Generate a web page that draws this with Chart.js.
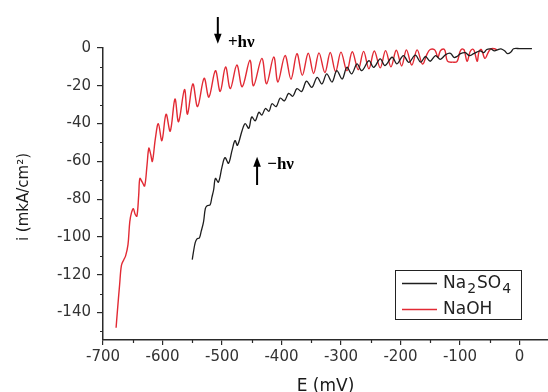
<!DOCTYPE html>
<html>
<head>
<meta charset="utf-8">
<script src="https://cdn.jsdelivr.net/npm/chart.js@4/dist/chart.umd.min.js"></script>
<style>
  html, body { margin: 0; padding: 0; background: #fff; }
  #wrap { width: 548px; height: 392px; }
</style>
</head>
<body>
<div id="wrap"><canvas id="c" width="548" height="392"></canvas></div>
<script>
// Axis ticks (major labelled, minor unlabelled)
const X_TICKS = [-700, -600, -500, -400, -300, -200, -100, 0];
const Y_TICKS = [0, -20, -40, -60, -80, -100, -120, -140];
const X_MINOR = [-650, -550, -450, -350, -250, -150, -50];
const Y_MINOR = [-10, -30, -50, -70, -90, -110, -130, -150];

// Na2SO4: potential E (mV) and photocurrent i (mkA/cm2)
const NA2SO4_E = [-550,-548,-545,-542,-538,-535,-531,-528,-525,-520,
  -517,-514,-511,-506,-500,-495,-489,-483,-478,-474,
  -466,-461,-455,-450,-444,-438,-433,-427,-421,-416,
  -409,-402,-395,-388,-381,-374,-366,-358,-349,-340,
  -332,-324,-315,-307,-298,-290,-282,-273,-265,-253,
  -245,-234,-226,-214,-206,-195,-186,-175,-166,-158,
  -150,-141,-133,-124,-116,-110,-105,-99,-91,-84,
  -77,-71,-66,-60,-55,-48,-42,-36,-31,-25,
  -20,-14,-10,0,10,21];
const NA2SO4_I = [-112,-108,-103,-101,-100.5,-97,-92,-85,-83.5,-83,
  -79,-75,-69,-71,-63,-58,-61,-54,-49,-51.5,
  -43.5,-40,-42.5,-36.5,-38.5,-34,-35.5,-32,-33.5,-29.5,
  -31,-26.5,-28,-24,-25.5,-21.5,-23,-17.5,-20.8,-15.5,
  -19,-13.7,-18,-12,-16.4,-10.2,-13.7,-8.4,-12,-6.7,
  -10.2,-5.8,-9.3,-4.9,-8.4,-4,-7.6,-3.8,-7.5,-4.5,
  -7,-4,-6,-3.5,-2.8,-5,-4.5,-3,-2.5,-4,
  -3,-2,-1.5,-2.5,-0.8,-0.5,-1.5,-0.8,-0.5,-1.5,
  -3,-2,-0.4,-0.3,-0.3,-0.3];

// NaOH: potential E (mV) and photocurrent i (mkA/cm2)
const NAOH_E = [-678,-676,-672,-669,-665,-662,-658,-655,-652,-649,
  -646,-643,-640,-638,-634,-630,-626,-623,-620,-617,
  -612,-607,-601,-594,-587,-579,-573,-563,-558,-549,
  -541,-530,-522,-511,-503,-494,-486,-475,-466,-453,
  -447,-433,-425,-413,-406,-394,-384,-374,-365,-355,
  -346,-337,-327,-318,-309,-300,-290,-281,-271,-262,
  -253,-244,-234,-225,-216,-207,-198,-190,-181,-172,
  -163,-155,-150,-143,-140,-137,-133,-128,-125,-121,
  -112,-105,-100,-97,-93,-88,-83,-79,-76,-71,
  -68,-64,-58,-52,-48,-42,-38];
const NAOH_I = [-148,-140,-125,-115,-112,-110,-104,-92,-87,-85,
  -88,-89,-78,-69,-71,-73,-62,-53,-56,-60,
  -48,-40,-49,-35,-44,-27,-39,-22,-35,-19,
  -31,-16,-26,-12,-23,-10,-21.5,-9,-20.5,-6.5,
  -20,-5.5,-19,-4.7,-18,-4,-16.5,-3,-14.5,-2.8,
  -13.5,-2.6,-13,-2.4,-12.5,-2.2,-12,-2,-11.5,-1.8,
  -11,-1.6,-10.5,-1.4,-10,-1.2,-9.5,-1,-9,-1,
  -8.5,-3,-0.8,-0.8,-2.5,-5,-1.5,-0.5,-1.5,-7,
  -7.5,-7.2,-2,-0.6,-1,-7,-2,-0.6,-1.5,-7,
  -2,-0.8,-5.5,-2,-0.4,-0.4,-1];

const BLACK = '#1e1e1e';
const RED = 'rgb(226,42,52)';
const AXIS = '#2a2a2a';
const TICK_FONT = { family: 'DejaVu Sans', size: 15 };

const toPoints = (xs, ys) => xs.map((x, i) => ({ x: x, y: ys[i] }));

// Light switching marks: arrow (in data units) and its label
const LIGHT_MARKS = [
  { label: '+h\u03BD', x: -507, yFrom: 16.4, yTo: 2.3, dir: 'down', tx: -490, ty: 2.6 },
  { label: '\u2212h\u03BD', x: -441, yFrom: -72.5, yTo: -57.6, dir: 'up', tx: -424, ty: -61.5 }
];

const decor = {
  id: 'decor',
  afterDraw(chart) {
    const ctx = chart.ctx;
    const xs = chart.scales.x, ys = chart.scales.y;
    const area = chart.chartArea;
    ctx.save();

    // minor ticks
    ctx.strokeStyle = AXIS;
    ctx.lineWidth = 1.2;
    ctx.beginPath();
    X_MINOR.forEach(v => {
      const px = Math.round(xs.getPixelForValue(v)) + 0.5;
      ctx.moveTo(px, area.bottom);
      ctx.lineTo(px, area.bottom + 3);
    });
    Y_MINOR.forEach(v => {
      const py = Math.round(ys.getPixelForValue(v)) + 0.5;
      ctx.moveTo(area.left, py);
      ctx.lineTo(area.left - 3, py);
    });
    ctx.stroke();

    // axis titles
    ctx.fillStyle = '#1a1a1a';
    ctx.font = '15px "DejaVu Sans"';
    ctx.textAlign = 'center';
    ctx.textBaseline = 'middle';
    ctx.save();
    ctx.translate(24, (area.top + area.bottom) / 2 + 3);
    ctx.rotate(-Math.PI / 2);
    ctx.fillText('i (mkA/cm\u00B2)', 0, 0);
    ctx.restore();
    ctx.font = '17px "DejaVu Sans"';
    ctx.textBaseline = 'alphabetic';
    ctx.fillText('E (mV)', (area.left + area.right) / 2, 391);

    // legend
    const lx = area.right - 153, ly = area.bottom - 70;
    ctx.strokeStyle = '#222';
    ctx.lineWidth = 1;
    ctx.strokeRect(lx + 0.5, ly + 0.5, 126, 49);
    ctx.lineWidth = 1.3;
    ctx.strokeStyle = BLACK;
    ctx.beginPath(); ctx.moveTo(lx + 7, ly + 13.5); ctx.lineTo(lx + 42, ly + 13.5); ctx.stroke();
    ctx.strokeStyle = RED;
    ctx.beginPath(); ctx.moveTo(lx + 7, ly + 39.5); ctx.lineTo(lx + 42, ly + 39.5); ctx.stroke();
    ctx.fillStyle = '#222';
    ctx.textAlign = 'left';
    let tx = lx + 48;
    const base1 = ly + 18;
    const parts = [['Na', 0, 17], ['2', 5, 14], ['SO', 0, 17], ['4', 5, 14]];
    parts.forEach(p => {
      ctx.font = p[2] + 'px "DejaVu Sans"';
      ctx.fillText(p[0], tx, base1 + p[1]);
      tx += ctx.measureText(p[0]).width + 1;
    });
    ctx.font = '17px "DejaVu Sans"';
    ctx.fillText('NaOH', lx + 48, ly + 44);

    // light on/off arrows and labels
    LIGHT_MARKS.forEach(m => {
      const px = xs.getPixelForValue(m.x);
      const p0 = ys.getPixelForValue(m.yFrom);
      const p1 = ys.getPixelForValue(m.yTo);
      const s = p1 > p0 ? 1 : -1;
      ctx.strokeStyle = '#000';
      ctx.fillStyle = '#000';
      ctx.lineWidth = 2;
      ctx.beginPath();
      ctx.moveTo(px, p0);
      ctx.lineTo(px, p1 - s * 8);
      ctx.stroke();
      ctx.beginPath();
      ctx.moveTo(px, p1);
      ctx.lineTo(px - 3.8, p1 - s * 10);
      ctx.lineTo(px + 3.8, p1 - s * 10);
      ctx.closePath();
      ctx.fill();
      ctx.font = 'bold 17px "Liberation Serif"';
      ctx.textAlign = 'left';
      ctx.textBaseline = 'middle';
      ctx.fillText(m.label, xs.getPixelForValue(m.tx), ys.getPixelForValue(m.ty));
    });

    ctx.restore();
  }
};

new Chart(document.getElementById('c'), {
  type: 'scatter',
  data: {
    datasets: [
      {
        label: 'Na2SO4',
        data: toPoints(NA2SO4_E, NA2SO4_I),
        showLine: true,
        borderColor: BLACK,
        borderWidth: 1.3,
        pointRadius: 0,
        tension: 0.35,
        clip: false
      },
      {
        label: 'NaOH',
        data: toPoints(NAOH_E, NAOH_I),
        showLine: true,
        borderColor: RED,
        borderWidth: 1.4,
        pointRadius: 0,
        tension: 0.35,
        clip: false
      }
    ]
  },
  options: {
    responsive: false,
    devicePixelRatio: 1,
    animation: false,
    layout: { padding: { left: 0, right: 0, top: 48, bottom: 0 } },
    plugins: { legend: { display: false }, tooltip: { enabled: false } },
    scales: {
      x: {
        type: 'linear',
        min: -700,
        max: 48,
        afterBuildTicks: s => { s.ticks = X_TICKS.map(v => ({ value: v })); },
        afterFit: s => { s.height = 52; s.paddingLeft = 0; s.paddingRight = 0; },
        ticks: { font: TICK_FONT, color: '#333', padding: 3, maxRotation: 0, autoSkip: false },
        grid: { drawOnChartArea: false, drawTicks: true, tickLength: 5, color: AXIS, lineWidth: 1.2 },
        border: { display: true, color: AXIS, width: 1.5 }
      },
      y: {
        type: 'linear',
        min: -154.5,
        max: 0,
        afterBuildTicks: s => { s.ticks = Y_TICKS.map(v => ({ value: v })); },
        afterFit: s => { s.width = 103; s.paddingTop = 0; s.paddingBottom = 0; },
        ticks: { font: TICK_FONT, color: '#333', padding: 6, autoSkip: false },
        grid: { drawOnChartArea: false, drawTicks: true, tickLength: 6, color: AXIS, lineWidth: 1.2 },
        border: { display: true, color: AXIS, width: 1.5 }
      }
    }
  },
  plugins: [decor]
});
</script>
</body>
</html>
